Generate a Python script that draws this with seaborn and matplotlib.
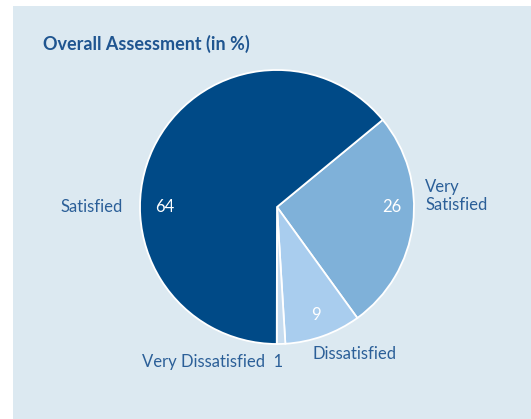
import matplotlib
matplotlib.use("Agg")
import matplotlib.pyplot as plt
from matplotlib.patches import Rectangle
import seaborn as sns

# Survey results (percent), in drawing order clockwise from the upper right
categories = ["Very Satisfied", "Dissatisfied", "Very Dissatisfied", "Satisfied"]
values = [26, 9, 1, 64]
colors = ["#7fb1d9", "#a9cdee", "#c7dcef", "#004a87"]

title = "Overall Assessment (in %)"
panel_bg = "#dce9f1"
text_color = "#2b5f98"

sns.set_theme(style="white")
plt.rcParams["font.family"] = ["Lato", "DejaVu Sans"]

W, H = 531, 419
fig = plt.figure(figsize=(W / 100, H / 100), dpi=100, facecolor="white")
ax = fig.add_axes([0, 0, 1, 1])
ax.set_facecolor("white")

# light panel behind the chart
ax.add_patch(Rectangle((13, 0), W - 13, H - 6, facecolor=panel_bg, edgecolor="none", zorder=0))

cx, cy, r = 277, H - 207, 137
wedges, _ = ax.pie(values, colors=colors, startangle=39.5, counterclock=False,
                   center=(cx, cy), radius=r,
                   wedgeprops=dict(edgecolor="white", linewidth=1.3))
for w in wedges:
    w.set_zorder(2)

ax.set_xlim(0, W)
ax.set_ylim(0, H)
ax.set_aspect("equal")
ax.axis("off")

ax.text(43, H - 44, title, fontsize=13, fontweight="bold", color="#1f5590",
        ha="left", va="center")

fs = 12
# value labels inside the slices
ax.text(165, H - 207, str(values[3]), fontsize=fs, color="white", ha="center", va="center", zorder=3)
ax.text(392, H - 207, str(values[0]), fontsize=fs, color="white", ha="center", va="center", zorder=3)
ax.text(316, H - 315, str(values[1]), fontsize=fs, color="white", ha="center", va="center", zorder=3)

# category labels around the pie
ax.text(123, H - 207, categories[3], fontsize=fs, color=text_color, ha="right", va="center")
ax.text(425, H - 196, "Very\nSatisfied", fontsize=fs, color=text_color, ha="left", va="center",
        linespacing=1.1)
ax.text(313, H - 354, categories[1], fontsize=fs, color=text_color, ha="left", va="center")
ax.text(283, H - 362, f"{categories[2]}  {values[2]}", fontsize=fs, color=text_color,
        ha="right", va="center")

fig.savefig("out.png", dpi=100, facecolor="white")
